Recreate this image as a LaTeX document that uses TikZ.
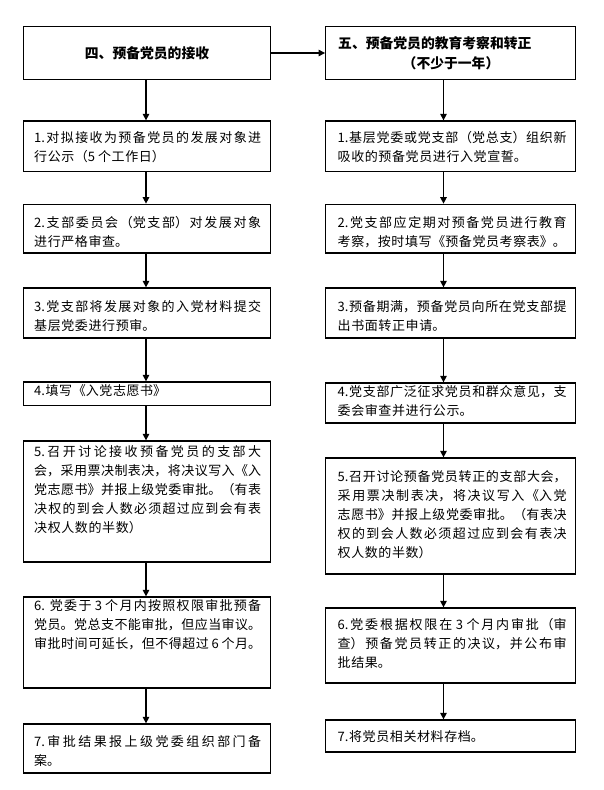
\documentclass[tikz,border=0pt]{standalone}
\usepackage{fontspec}
\setmainfont{Noto Sans CJK SC}
\usetikzlibrary{arrows.meta,fit}
\XeTeXlinebreaklocale "zh"
\XeTeXlinebreakskip=0.6pt plus 3pt minus 0.6pt
\begin{document}
\begin{tikzpicture}[x=1pt,y=-1pt,
  box/.style={draw, line width=1.3pt, inner sep=0pt, rectangle},
  txt/.style={inner sep=0pt, anchor=base west, align=justify, font=\fontsize{13}{19}\selectfont},
  ttl/.style={inner sep=0pt, anchor=base, font=\fontsize{13.8}{20}\selectfont\bfseries},
  arr/.style={line width=1.3pt, -{Triangle[length=6.5pt,width=6.5pt]}}]
\useasboundingbox (0,0) rectangle (603,790);
% left boxes
\node[box, fit={(23.3,26.7) (270.7,79.3)}] (L0) {};
\node[box, fit={(23.3,121) (270.7,171.5)}] (L1) {};
\node[box, fit={(23.3,204.3) (270.7,253)}] (L2) {};
\node[box, fit={(23.3,288) (270.7,338)}] (L3) {};
\node[box, fit={(23.3,382) (270.7,405.5)}] (L4) {};
\node[box, fit={(23.3,441) (270.7,562)}] (L5) {};
\node[box, fit={(23.3,597) (270.7,688)}] (L6) {};
\node[box, fit={(23.3,724) (270.7,773)}] (L7) {};
% right boxes
\node[box, fit={(325.7,26.7) (575.3,79.3)}] (R0) {};
\node[box, fit={(325.7,121) (575.3,171.5)}] (R1) {};
\node[box, fit={(325.7,204.3) (575.3,253)}] (R2) {};
\node[box, fit={(325.7,288) (575.3,338)}] (R3) {};
\node[box, fit={(325.7,383) (575.3,423)}] (R4) {};
\node[box, fit={(325.7,458) (575.3,574)}] (R5) {};
\node[box, fit={(325.7,608) (575.3,683)}] (R6) {};
\node[box, fit={(325.7,720) (575.3,752)}] (R7) {};
% titles
\node[ttl] (L0t) at (147,58.2) {四、预备党员的接收};
\node[ttl, anchor=base west] (R0a) at (338,48.4) {五、预备党员的教育考察和转正};
\node[ttl] (R0b) at (451,68.4) {（不少于一年）};
% left texts
\node[txt, text width=227pt] (L1t) at (34,142.4) {1.对拟接收为预备党员的发展对象进\linebreak 行公示（5 个工作日）};
\node[txt, text width=227pt] (L2t) at (34,227.9) {2.支部委员会（党支部）对发展对象\linebreak 进行严格审查。};
\node[txt, text width=227pt] (L3t) at (34,311.9) {3.党支部将发展对象的入党材料提交\linebreak 基层党委进行预审。};
\node[txt, text width=227pt] (L4t) at (34,395.2) {4.填写《入党志愿书》};
\node[txt, text width=227pt] (L5t) at (34,456.9) {5.召开讨论接收预备党员的支部大\linebreak 会，采用票决制表决，将决议写入《入\linebreak 党志愿书》并报上级党委审批。（有表\linebreak 决权的到会人数必须超过应到会有表\linebreak 决权人数的半数）};
\node[txt, text width=227pt] (L6t) at (34,610) {6. 党委于 3 个月内按照权限审批预备\linebreak 党员。党总支不能审批，但应当审议。\linebreak 审批时间可延长，但不得超过 6 个月。};
\node[txt, text width=227pt] (L7t) at (34,746.9) {7.审批结果报上级党委组织部门备\linebreak 案。};
% right texts
\node[txt, text width=229pt] (R1t) at (337.5,142.4) {1.基层党委或党支部（党总支）组织新\linebreak 吸收的预备党员进行入党宣誓。};
\node[txt, text width=229pt] (R2t) at (337.5,227.9) {2.党支部应定期对预备党员进行教育\linebreak 考察，按时填写《预备党员考察表》。};
\node[txt, text width=229pt] (R3t) at (337.5,311.9) {3.预备期满，预备党员向所在党支部提\linebreak 出书面转正申请。};
\node[txt, text width=229pt] (R4t) at (337.5,396.9) {4.党支部广泛征求党员和群众意见，支\linebreak 委会审查并进行公示。};
\node[txt, text width=229pt] (R5t) at (337.5,481.9) {5.召开讨论预备党员转正的支部大会，\linebreak 采用票决制表决，将决议写入《入党\linebreak 志愿书》并报上级党委审批。（有表决\linebreak 权的到会人数必须超过应到会有表决\linebreak 权人数的半数）};
\node[txt, text width=229pt] (R6t) at (337.5,629.9) {6.党委根据权限在 3 个月内审批（审\linebreak 查）预备党员转正的决议，并公布审\linebreak 批结果。};
\node[txt, text width=229pt] (R7t) at (337.5,741.9) {7.将党员相关材料存档。};
% connectors
\draw[arr] (L0.east) -- (R0.west);
\foreach \a/\b in {L0/L1,L1/L2,L2/L3,L3/L4,L4/L5,L5/L6,L6/L7}
  \draw[arr] ([xshift=-1pt]\a.south) -- ([xshift=-1pt]\b.north);
\foreach \a/\b in {R0/R1,R1/R2,R2/R3,R3/R4,R4/R5,R5/R6,R6/R7}
  \draw[arr] ([xshift=-7pt]\a.south) -- ([xshift=-7pt]\b.north);
\end{tikzpicture}
\end{document}
